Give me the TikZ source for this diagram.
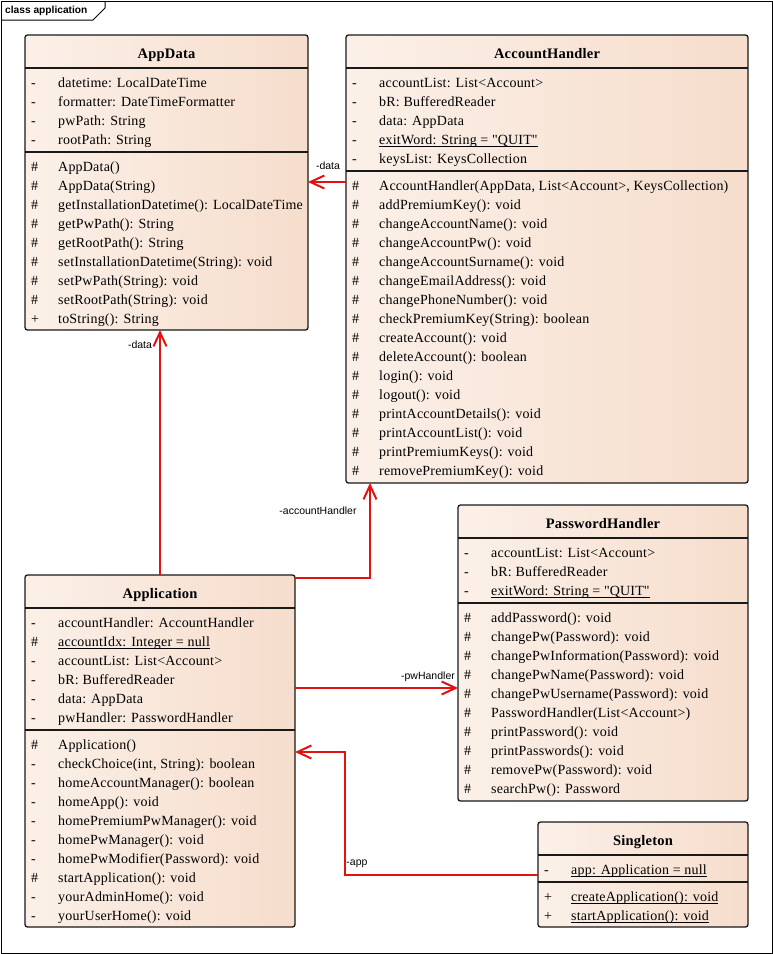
\documentclass[tikz,border=0pt]{standalone}
\usepackage{fontspec}
\setmainfont{Liberation Serif}[LetterSpace=1.5]
\newfontfamily\qfont{Liberation Serif}[LetterSpace=1.5]
\newfontfamily\lsans{Liberation Sans}
\usetikzlibrary{arrows.meta}
\definecolor{assocred}{RGB}{226,18,18}
\definecolor{peachL}{RGB}{251,240,232}
\definecolor{peachR}{RGB}{246,221,204}
\definecolor{edgecol}{RGB}{25,25,25}
\newcommand\uln[1]{\setbox0\hbox{#1}\rlap{\rule[-2.6pt]{\wd0}{0.75pt}}\box0}
\newcommand\qq{{\qfont\char34}}
\newcommand\mrows[4]{\foreach \v/\t [count=\i from 0] in {#4}{%
  \node[vis] (#1v\i) at (#2+6,#3+19*\i) {\v};
  \node[mem] (#1t\i) at (#2+33,#3+19*\i) {\t};}}
\tikzset{
  classbox/.style={draw=edgecol, line width=1.3pt, rounded corners=2.5pt,
    left color=peachL, right color=peachR, anchor=north west,
    inner sep=0pt, outer sep=0pt},
  vis/.style={anchor=base west, inner sep=0pt, font=\fontsize{14}{16}\selectfont},
  mem/.style={anchor=base west, inner sep=0pt, font=\fontsize{14}{16}\selectfont},
  ctitle/.style={anchor=base, inner sep=0pt, font=\fontsize{14.5}{16}\selectfont\bfseries},
  csep/.style={draw=edgecol, line width=1.6pt},
  assoc/.style={draw=assocred, line width=2pt,
    -{Straight Barb[length=14pt,width=13pt]}},
  rlabel/.style={font=\lsans\fontsize{10.5}{12}\selectfont, inner sep=0pt},
}
\begin{document}
\begin{tikzpicture}[x=1pt,y=-1pt]
\useasboundingbox (0,0) rectangle (773,954);
\fill[white] (0,0) rectangle (773,954);
% frame
\draw[line width=1pt, black] (1,1) rectangle (772,953);
\draw[line width=1pt, black] (1,20) -- (93,20) -- (105,8) -- (105,1);
\node[anchor=west, inner sep=0pt, font=\lsans\bfseries\fontsize{10.2}{12}\selectfont] (framelabel) at (5,11) {class application};

% ---------------- AppData
\node[classbox, minimum width=283pt, minimum height=295pt] (appdata) at (25,35) {};
\node[ctitle] (appdataT) at (166.5,58) {AppData};
\draw[csep] (25,68) -- (308,68);
\mrows{ada}{25}{87}{-/{datetime: LocalDateTime},-/{formatter: DateTimeFormatter},-/{pwPath: String},-/{rootPath: String}}
\draw[csep] (25,152) -- (308,152);
\mrows{adm}{25}{171}{\#/{AppData()},\#/{AppData(String)},\#/{getInstallationDatetime(): LocalDateTime},\#/{getPwPath(): String},\#/{getRootPath(): String},\#/{setInstallationDatetime(String): void},\#/{setPwPath(String): void},\#/{setRootPath(String): void},+/{toString(): String}}

% ---------------- AccountHandler
\node[classbox, minimum width=402pt, minimum height=448pt] (accounthandler) at (346,35) {};
\node[ctitle] (accounthandlerT) at (547,58) {AccountHandler};
\draw[csep] (346,68) -- (748,68);
\mrows{aha}{346}{87}{-/{accountList: List<Account>},-/{bR: BufferedReader},-/{data: AppData},-/{\uln{exitWord: String = \qq QUIT\qq}},-/{keysList: KeysCollection}}
\draw[csep] (346,171) -- (748,171);
\mrows{ahm}{346}{190}{\#/{AccountHandler(AppData, List<Account>, KeysCollection)},\#/{addPremiumKey(): void},\#/{changeAccountName(): void},\#/{changeAccountPw(): void},\#/{changeAccountSurname(): void},\#/{changeEmailAddress(): void},\#/{changePhoneNumber(): void},\#/{checkPremiumKey(String): boolean},\#/{createAccount(): void},\#/{deleteAccount(): boolean},\#/{login(): void},\#/{logout(): void},\#/{printAccountDetails(): void},\#/{printAccountList(): void},\#/{printPremiumKeys(): void},\#/{removePremiumKey(): void}}

% ---------------- PasswordHandler
\node[classbox, minimum width=290pt, minimum height=296pt] (passwordhandler) at (458,505) {};
\node[ctitle] (passwordhandlerT) at (603,528) {PasswordHandler};
\draw[csep] (458,538) -- (748,538);
\mrows{pha}{458}{557}{-/{accountList: List<Account>},-/{bR: BufferedReader},-/{\uln{exitWord: String = \qq QUIT\qq}}}
\draw[csep] (458,603) -- (748,603);
\mrows{phm}{458}{622}{\#/{addPassword(): void},\#/{changePw(Password): void},\#/{changePwInformation(Password): void},\#/{changePwName(Password): void},\#/{changePwUsername(Password): void},\#/{PasswordHandler(List<Account>)},\#/{printPassword(): void},\#/{printPasswords(): void},\#/{removePw(Password): void},\#/{searchPw(): Password}}

% ---------------- Application
\node[classbox, minimum width=270pt, minimum height=352pt] (application) at (25,575) {};
\node[ctitle] (applicationT) at (160,598) {Application};
\draw[csep] (25,608) -- (295,608);
\mrows{apa}{25}{627}{-/{accountHandler: AccountHandler},\#/{\uln{accountIdx: Integer = null}},-/{accountList: List<Account>},-/{bR: BufferedReader},-/{data: AppData},-/{pwHandler: PasswordHandler}}
\draw[csep] (25,730) -- (295,730);
\mrows{apm}{25}{749}{\#/{Application()},-/{checkChoice(int, String): boolean},-/{homeAccountManager(): boolean},-/{homeApp(): void},-/{homePremiumPwManager(): void},-/{homePwManager(): void},-/{homePwModifier(Password): void},\#/{startApplication(): void},-/{yourAdminHome(): void},-/{yourUserHome(): void}}

% ---------------- Singleton
\node[classbox, minimum width=210pt, minimum height=105pt] (singleton) at (538,822) {};
\node[ctitle] (singletonT) at (643,845) {Singleton};
\draw[csep] (538,855) -- (748,855);
\mrows{sga}{538}{874}{-/{\uln{app: Application = null}}}
\draw[csep] (538,882) -- (748,882);
\mrows{sgm}{538}{901}{+/{\uln{createApplication(): void}},+/{\uln{startApplication(): void}}}

% ---------------- connectors
\coordinate (kA) at (0,182);
\coordinate (kB) at (370,578);
\coordinate (kC) at (0,688);
\coordinate (kD) at (345,875);
\coordinate (kE) at (345,752);

\draw[assoc] (application.north) -- (application.north |- appdata.south);
\draw[assoc] (accounthandler.west |- kA) -- (appdata.east |- kA);
\draw[assoc] (application.east |- kB) -- (kB) -- (kB |- accounthandler.south);
\draw[assoc] (application.east |- kC) -- (passwordhandler.west |- kC);
\draw[assoc] (singleton.west |- kD) -- (kD) -- (kE) -- (application.east |- kE);

\node[rlabel] (lbl1) at (140,345) {-data};
\node[rlabel] (lbl2) at (328,166) {-data};
\node[rlabel] (lbl3) at (318,511) {-accountHandler};
\node[rlabel] (lbl4) at (428,677) {-pwHandler};
\node[rlabel] (lbl5) at (357,864) {-app};
\end{tikzpicture}
\end{document}
